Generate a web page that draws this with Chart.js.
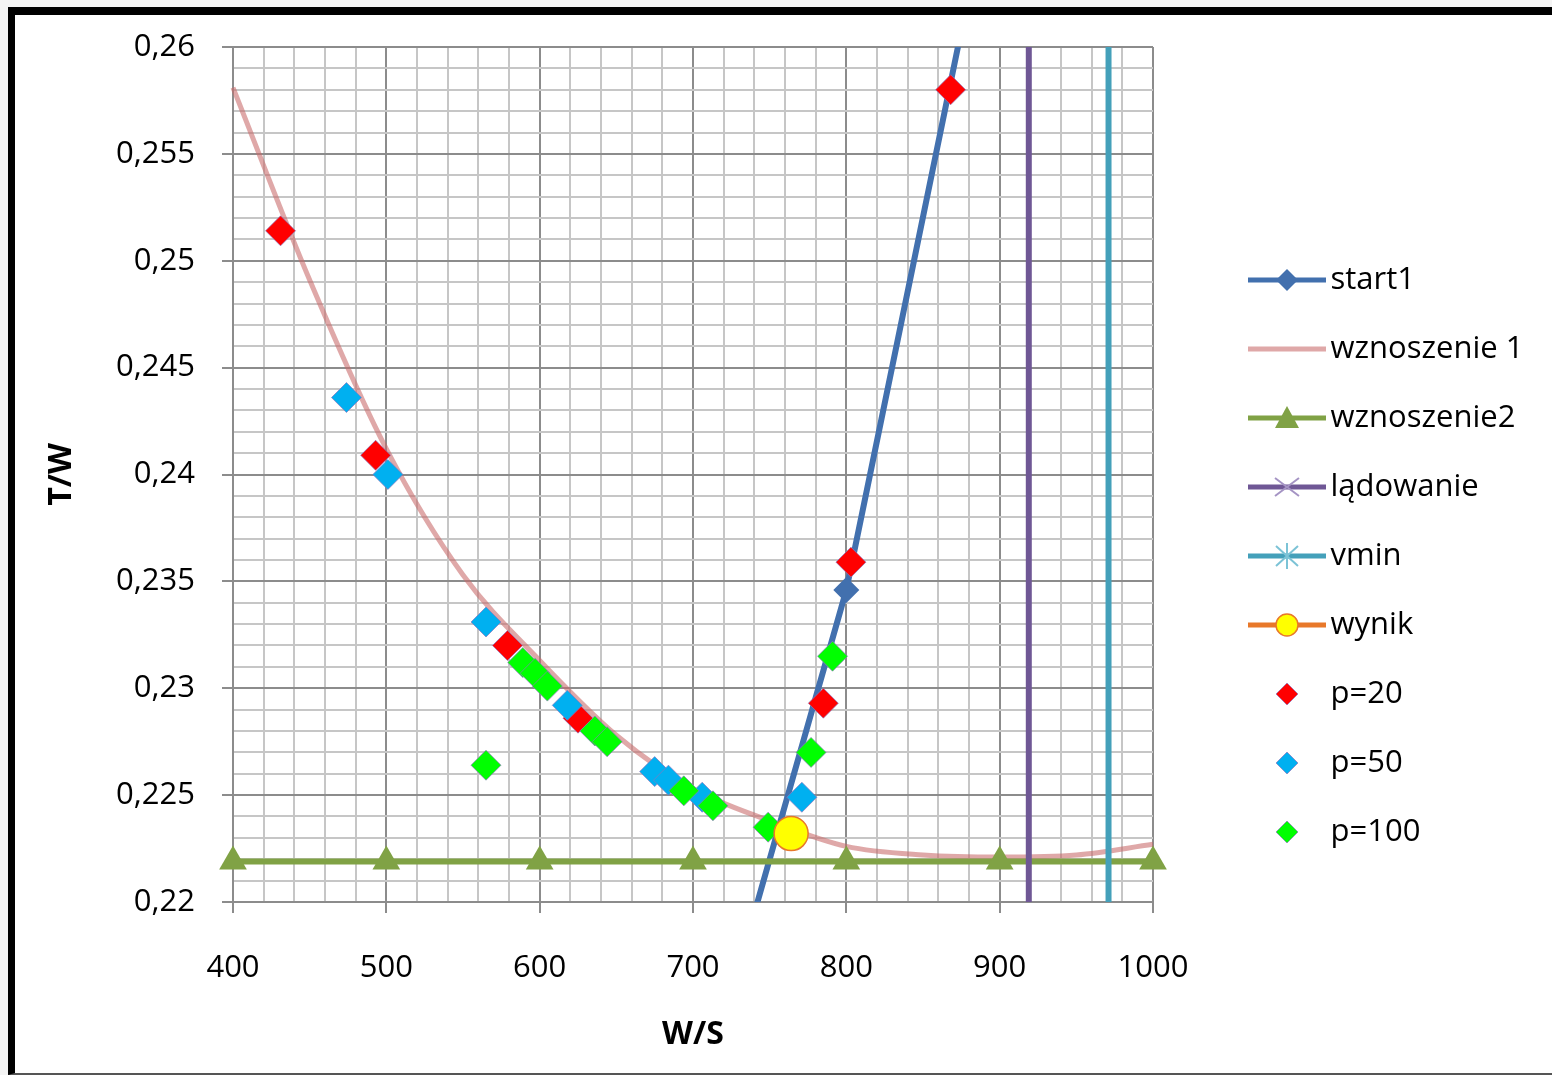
<!DOCTYPE html>
<html>
<head>
<meta charset="utf-8">
<script src="https://cdn.jsdelivr.net/npm/chart.js@4/dist/chart.umd.min.js"></script>
<style>
  html, body { margin: 0; padding: 0; background: #f4f4f4; width: 1552px; height: 1075px; overflow: hidden; }
  #frame { position: absolute; left: 8px; top: 7px; width: 1544px; height: 1068px; box-sizing: border-box;
           background: #fff; border-top: 8px solid #000; border-left: 7px solid #000; border-bottom: 2px solid #555; }
  #wrap { position: absolute; left: 0; top: 0; width: 1537px; height: 1058px; }
  canvas { display: block; }
</style>
</head>
<body>
<div id="frame"><div id="wrap"><canvas id="c" width="1537" height="1058"></canvas></div></div>
<script>
// ---------- data ----------
const seriesNames = ['start1', 'wznoszenie 1', 'wznoszenie2', 'lądowanie', 'vmin', 'wynik', 'p=20', 'p=50', 'p=100'];

const xTickLabels = ['400', '500', '600', '700', '800', '900', '1000'];
const yTickLabels = ['0,22', '0,225', '0,23', '0,235', '0,24', '0,245', '0,25', '0,255', '0,26'];

const start1X = [700, 800, 900];
const start1Y = [0.2094, 0.2346, 0.2695];

const climb1X = [400, 450, 500, 550, 600, 650, 700, 750, 800, 850, 900, 950, 1000];
const climb1Y = [0.2581, 0.2491, 0.2412, 0.2353, 0.2313, 0.2278, 0.2253, 0.2238, 0.2226, 0.2222, 0.2221, 0.2222, 0.2227];

const climb2X = [400, 500, 600, 700, 800, 900, 1000];
const climb2Y = [0.2219, 0.2219, 0.2219, 0.2219, 0.2219, 0.2219, 0.2219];

const landingX = [919, 919];
const landingY = [0.22, 0.26];

const vminX = [971, 971];
const vminY = [0.22, 0.26];

const resultX = [764];
const resultY = [0.2232];

const p20X = [868, 431, 493, 579, 625, 785, 803];
const p20Y = [0.2580, 0.2514, 0.2409, 0.2320, 0.2286, 0.2293, 0.2359];

const p50X = [474, 501, 565, 618, 675, 684, 706, 771];
const p50Y = [0.2436, 0.2400, 0.2331, 0.2292, 0.2261, 0.2257, 0.2249, 0.2249];

const p100X = [565, 589, 597, 605, 636, 644, 694, 713, 749, 777, 791];
const p100Y = [0.2264, 0.2312, 0.2307, 0.2301, 0.2280, 0.2275, 0.2252, 0.2245, 0.2235, 0.2270, 0.2315];

// ---------- styles ----------
const C_BLUE = '#4270ae';
const C_PINK = 'rgba(200,105,105,0.58)';
const C_GREEN = '#80a245';
const C_PURPLE = '#6f5795';
const C_TEAL = '#44a0ba';
const C_ORANGE = '#e8782a';
const C_YELLOW = '#ffff00';
const C_RED = '#ff0000';
const C_SKY = '#00b0f0';
const C_LIME = '#00ff00';
const MARK_EDGE = 'rgba(140,120,190,0.7)';

const FAM = "'Open Sans', 'Liberation Sans', sans-serif";
const FS = 31;
const pts = (xs, ys) => xs.map((x, i) => ({ x: x, y: ys[i] }));

// ---------- legend icons (line + marker) ----------
const ICON_W = 146, ICON_H = 40, LINE_X0 = 68, MARK_X = 107, MID = 20;
function icon(fn) {
  const c = document.createElement('canvas');
  c.width = ICON_W; c.height = ICON_H;
  const g = c.getContext('2d');
  fn(g);
  return c;
}
function hline(g, color, w) {
  g.strokeStyle = color; g.lineWidth = w; g.beginPath();
  g.moveTo(LINE_X0, MID); g.lineTo(ICON_W, MID); g.stroke();
}
function diamond(g, fill, r, edge) {
  g.beginPath(); g.moveTo(MARK_X - r, MID); g.lineTo(MARK_X, MID - r); g.lineTo(MARK_X + r, MID); g.lineTo(MARK_X, MID + r); g.closePath();
  g.fillStyle = fill; g.fill();
  if (edge) { g.strokeStyle = edge; g.lineWidth = 1; g.stroke(); }
}
const legendIcons = [
  icon(g => { hline(g, C_BLUE, 5); diamond(g, C_BLUE, 11); }),
  icon(g => { hline(g, C_PINK, 5); }),
  icon(g => { hline(g, C_GREEN, 5);
    g.beginPath(); g.moveTo(MARK_X, MID - 12); g.lineTo(MARK_X + 12, MID + 10); g.lineTo(MARK_X - 12, MID + 10); g.closePath();
    g.fillStyle = C_GREEN; g.fill(); }),
  icon(g => { hline(g, C_PURPLE, 5);
    g.strokeStyle = '#a594c4'; g.lineWidth = 2; g.beginPath();
    g.moveTo(MARK_X - 12, MID - 9); g.lineTo(MARK_X + 12, MID + 9); g.moveTo(MARK_X - 12, MID + 9); g.lineTo(MARK_X + 12, MID - 9); g.stroke(); }),
  icon(g => { hline(g, C_TEAL, 5);
    g.strokeStyle = '#7cc3d6'; g.lineWidth = 2; g.beginPath();
    g.moveTo(MARK_X - 11, MID - 10); g.lineTo(MARK_X + 11, MID + 10); g.moveTo(MARK_X - 11, MID + 10); g.lineTo(MARK_X + 11, MID - 10);
    g.moveTo(MARK_X, MID - 13); g.lineTo(MARK_X, MID + 13); g.stroke(); }),
  icon(g => { hline(g, C_ORANGE, 5);
    g.beginPath(); g.arc(MARK_X, MID, 11, 0, Math.PI * 2); g.fillStyle = C_YELLOW; g.fill();
    g.strokeStyle = C_ORANGE; g.lineWidth = 1.5; g.stroke(); }),
  icon(g => { diamond(g, C_RED, 11, MARK_EDGE); }),
  icon(g => { diamond(g, C_SKY, 11, MARK_EDGE); }),
  icon(g => { diamond(g, C_LIME, 11, MARK_EDGE); })
];

// ---------- layout numbers ----------
const CANVAS_W = 1537;
const PLOT_RIGHT = 1138;
const LEG_PAD = 38;
const LEG_BOX = 124;
const mctx = document.createElement('canvas').getContext('2d');
mctx.font = FS + 'px ' + FAM;
let textMax = 0;
seriesNames.forEach(s => { textMax = Math.max(textMax, mctx.measureText(s).width); });
const legendFit = 10 + LEG_PAD + LEG_BOX + FS / 2 + textMax;
const S = CANVAS_W - PLOT_RIGHT;
let padRight = S - legendFit;
if (legendFit > (CANVAS_W - padRight) / 4) padRight = (4 * S - CANVAS_W) / 3;

const isMajorY = v => Math.round((v - 0.22) * 1000) % 5 === 0;
const isMajorX = v => Math.round((v - 400) / 20) % 5 === 0;
const GRID_MAJOR = '#8c8c8c';
const GRID_MINOR = '#c6c6c6';

Chart.defaults.font.family = FAM;
Chart.defaults.font.size = FS;
Chart.defaults.color = '#000';

const diamondSet = (label, xs, ys, color, order) => ({
  label: label, data: pts(xs, ys), showLine: false, order: order,
  pointStyle: 'rectRot', pointRadius: 15, pointBackgroundColor: color,
  pointBorderColor: MARK_EDGE, pointBorderWidth: 1, clip: false
});

new Chart(document.getElementById('c'), {
  type: 'scatter',
  data: {
    datasets: [
      { label: seriesNames[0], data: pts(start1X, start1Y), showLine: true, order: 10,
        borderColor: C_BLUE, borderWidth: 6, pointStyle: 'rectRot', pointRadius: 13,
        pointBackgroundColor: C_BLUE, pointBorderColor: C_BLUE, pointBorderWidth: 0 },
      { label: seriesNames[1], data: pts(climb1X, climb1Y), showLine: true, order: 9,
        borderColor: C_PINK, borderWidth: 5, pointRadius: 0, cubicInterpolationMode: 'monotone', clip: false },
      { label: seriesNames[2], data: pts(climb2X, climb2Y), showLine: true, order: 8,
        borderColor: C_GREEN, borderWidth: 6, pointStyle: 'triangle', pointRadius: 16,
        pointBackgroundColor: C_GREEN, pointBorderColor: C_GREEN, pointBorderWidth: 0, clip: false },
      { label: seriesNames[3], data: pts(landingX, landingY), showLine: true, order: 7,
        borderColor: C_PURPLE, borderWidth: 6, pointRadius: 0 },
      { label: seriesNames[4], data: pts(vminX, vminY), showLine: true, order: 6,
        borderColor: C_TEAL, borderWidth: 6, pointRadius: 0 },
      { label: seriesNames[5], data: pts(resultX, resultY), showLine: false, order: 1,
        pointStyle: 'circle', pointRadius: 17, pointBackgroundColor: C_YELLOW,
        pointBorderColor: C_ORANGE, pointBorderWidth: 1.5, clip: false },
      diamondSet(seriesNames[6], p20X, p20Y, C_RED, 5),
      diamondSet(seriesNames[7], p50X, p50Y, C_SKY, 4),
      diamondSet(seriesNames[8], p100X, p100Y, C_LIME, 3)
    ]
  },
  options: {
    responsive: false,
    animation: false,
    devicePixelRatio: 1,
    events: [],
    layout: { padding: { top: 32, left: 0, right: padRight, bottom: 8 } },
    scales: {
      x: {
        type: 'linear', min: 400, max: 1000,
        ticks: {
          stepSize: 20, autoSkip: false, maxRotation: 0, padding: 37, color: '#000',
          callback: v => { const k = Math.round((v - 400) / 20); return k % 5 === 0 ? xTickLabels[k / 5] : ''; }
        },
        grid: {
          color: c => isMajorX(c.tick.value) ? GRID_MAJOR : GRID_MINOR,
          lineWidth: 2, tickLength: 11,
          tickColor: c => isMajorX(c.tick.value) ? GRID_MAJOR : 'rgba(0,0,0,0)', tickWidth: 2
        },
        border: { display: true, color: GRID_MAJOR, width: 2 },
        title: { display: true, text: 'W/S', font: { size: 32, weight: 'bold' }, padding: { top: 0, bottom: 11 }, color: '#000' },
        afterFit: s => { s.height = 163; s.paddingLeft = 0; s.paddingRight = 0; }
      },
      y: {
        type: 'linear', min: 0.22, max: 0.26,
        ticks: {
          stepSize: 0.001, autoSkip: false, padding: 27, color: '#000',
          callback: v => { const k = Math.round((v - 0.22) * 1000); return k % 5 === 0 ? yTickLabels[k / 5] : ''; }
        },
        grid: {
          color: c => isMajorY(c.tick.value) ? GRID_MAJOR : GRID_MINOR,
          lineWidth: 2, tickLength: 11,
          tickColor: c => isMajorY(c.tick.value) ? GRID_MAJOR : 'rgba(0,0,0,0)', tickWidth: 2
        },
        border: { display: true, color: GRID_MAJOR, width: 2 },
        title: { display: true, text: 'T/W', font: { size: 32, weight: 'bold' }, padding: { top: 28, bottom: 0 }, color: '#000' },
        afterFit: s => { s.width = 218; s.paddingTop = 0; s.paddingBottom = 0; }
      }
    },
    plugins: {
      tooltip: { enabled: false },
      legend: {
        display: true, position: 'right', align: 'center',
        labels: {
          usePointStyle: true, pointStyleWidth: LEG_BOX, padding: LEG_PAD, color: '#000',
          font: { size: FS },
          sort: (a, b) => a.datasetIndex - b.datasetIndex,
          generateLabels: chart => chart.data.datasets.map((ds, i) => ({
            text: ds.label, datasetIndex: i, pointStyle: legendIcons[i],
            fillStyle: 'rgba(0,0,0,0)', strokeStyle: 'rgba(0,0,0,0)', lineWidth: 0, hidden: false
          }))
        }
      }
    }
  }
});
</script>
</body>
</html>
